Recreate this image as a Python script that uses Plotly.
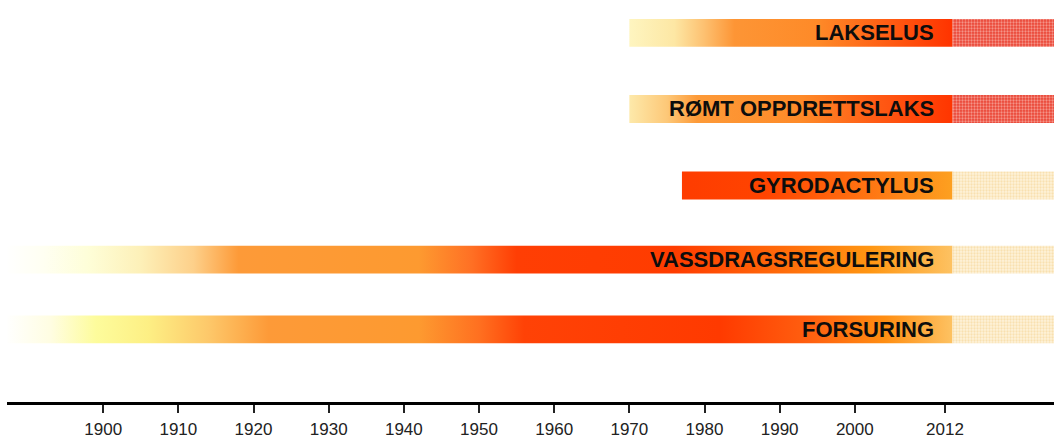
import plotly.graph_objects as go

# ---------------- data ----------------
threats = ["FORSURING", "VASSDRAGSREGULERING", "GYRODACTYLUS",
           "RØMT OPPDRETTSLAKS", "LAKSELUS"]
start_year = [1887, 1887, 1977, 1970, 1970]
end_year = [2013, 2013, 2013, 2013, 2013]
future_end = 2027
tick_years = [1900, 1910, 1920, 1930, 1940, 1950, 1960, 1970, 1980, 1990, 2000, 2012]
tick_labels = [str(y) for y in tick_years]

# gradient stops (year, colour) per threat
gradients = {
    "FORSURING": [(1887, "#ffffff"), (1893, "#fffde2"), (1899, "#fdfc9c"), (1906, "#fdef84"),
                  (1914, "#fdc86a"), (1922, "#fd9a38"), (1942, "#fd9a30"), (1950, "#ff7020"),
                  (1956, "#ff4206"), (1982, "#ff3a00"), (1994, "#ff6010"), (2004, "#ff8e12"),
                  (2013, "#fdc262")],
    "VASSDRAGSREGULERING": [(1887, "#ffffff"), (1892, "#fffff2"), (1898, "#fefed8"), (1905, "#fdf0b8"),
                            (1912, "#fdd08a"), (1918, "#fd9a38"), (1942, "#fd9a30"), (1949, "#ff7024"),
                            (1955, "#ff3e04"), (1976, "#ff3c00"), (1990, "#ff6a0a"), (2002, "#ff9612"),
                            (2013, "#fdc262")],
    "GYRODACTYLUS": [(1977, "#fe3c00"), (1988, "#ff4400"), (2000, "#ff6e10"), (2013, "#fda020")],
    "RØMT OPPDRETTSLAKS": [(1970, "#fde9aa"), (1975, "#fdc878"), (1979, "#fd9a38"), (1993, "#fe8a28"),
                           (2003, "#ff5a14"), (2013, "#ff3500")],
    "LAKSELUS": [(1970, "#fef5c0"), (1976, "#fde7a4"), (1980, "#fdc070"), (1984, "#fd9535"),
                 (1995, "#fe8a28"), (2005, "#ff5a12"), (2013, "#ff3300")],
}

# speckled projection texture (bg, fg)
future_style = {
    "FORSURING": ("#fdf2da", "#f3cd86"),
    "VASSDRAGSREGULERING": ("#fdf2da", "#f3cd86"),
    "GYRODACTYLUS": ("#fdf2da", "#f3cd86"),
    "RØMT OPPDRETTSLAKS": ("#ea4434", "#fde4dc"),
    "LAKSELUS": ("#ea4434", "#fde4dc"),
}

# ---------------- layout constants ----------------
ROW_Y = [0, 0.94, 1.94, 2.973, 4]
HALF_H = 0.188
X_RANGE = [1887.2, 2026.5]

fig = go.Figure()

for name, s, e, yc in zip(threats, start_year, end_year, ROW_Y):
    stops = gradients[name]
    cs = [[(yr - s) / (e - s), c] for yr, c in stops]
    y0, y1 = yc - HALF_H, yc + HALF_H
    fig.add_trace(go.Scatter(
        x=[s, e, e, s, s], y=[y0, y0, y1, y1, y0],
        mode="lines", fill="toself",
        line=dict(width=0, color="rgba(0,0,0,0)"),
        fillgradient=dict(type="horizontal", colorscale=cs, start=s, stop=e),
        hoverinfo="skip", showlegend=False,
    ))
    bg, fg = future_style[name]
    fig.add_trace(go.Scatter(
        x=[e, future_end, future_end, e, e], y=[y0, y0, y1, y1, y0],
        mode="lines", fill="toself",
        line=dict(width=0, color="rgba(0,0,0,0)"),
        fillcolor=bg,
        fillpattern=dict(shape=".", bgcolor=bg, fgcolor=fg, size=3, solidity=0.45),
        hoverinfo="skip", showlegend=False,
    ))
    fig.add_annotation(
        x=e, y=yc, xref="x", yref="y", text=name, showarrow=False,
        xanchor="right", yanchor="middle", xshift=-17,
        font=dict(family="Liberation Sans, Arial, sans-serif", size=22,
                  color="#0d0d0d", weight="bold"),
    )

fig.update_layout(
    width=1054, height=439,
    margin=dict(l=7, r=0, t=0, b=35),
    paper_bgcolor="white", plot_bgcolor="white",
    xaxis=dict(
        range=X_RANGE, showgrid=False, zeroline=False,
        showline=True, linecolor="#000000", linewidth=3,
        ticks="outside", ticklen=8, tickwidth=2, tickcolor="#222222",
        tickvals=tick_years, ticktext=tick_labels, ticklabelstandoff=2,
        tickfont=dict(family="Liberation Sans, Arial, sans-serif", size=17, color="#222222"),
        fixedrange=True,
    ),
    yaxis=dict(range=[-0.98, 4.443], visible=False, fixedrange=True),
)

fig.write_html(
    "out.html",
    config={"displayModeBar": False},
    post_script="document.body.style.margin='0';document.body.style.overflow='hidden';",
)
